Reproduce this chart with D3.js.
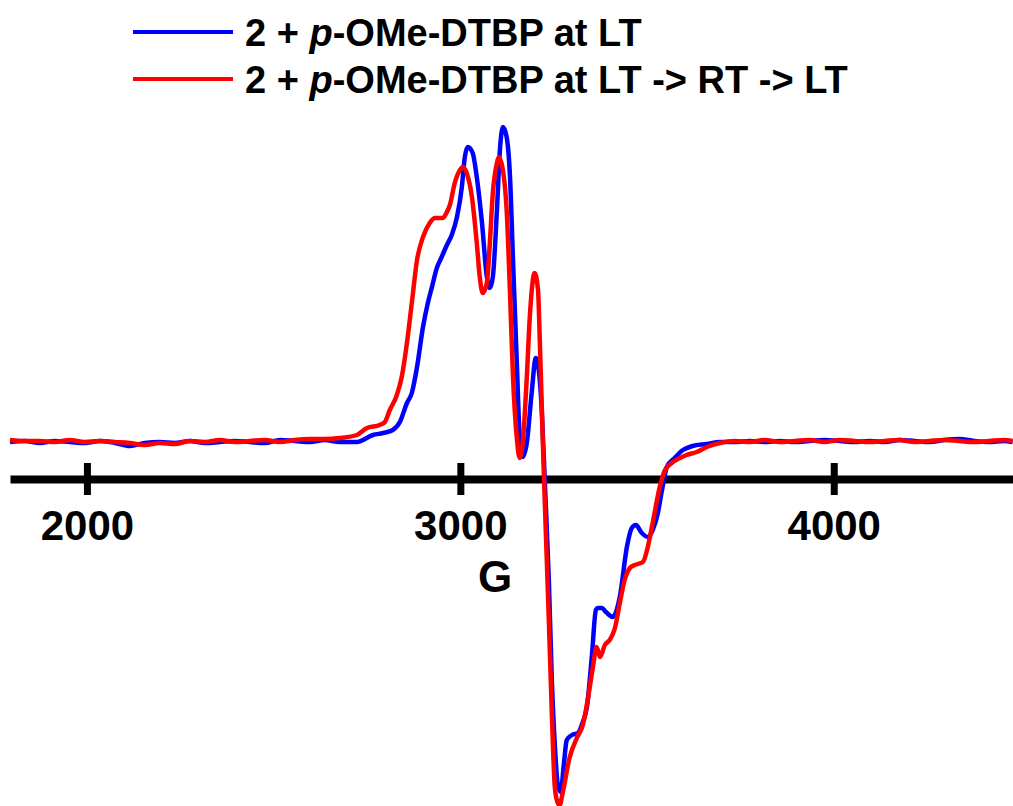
<!DOCTYPE html>
<html lang="en">
<head>
<meta charset="UTF-8">
<title>EPR spectra</title>
<script src="https://d3js.org/d3.v7.min.js"></script>
<style>
  body { margin: 0; background: #fff; }
  svg { display: block; font-family: "Liberation Sans", Arial, sans-serif; font-weight: bold; }
</style>
</head>
<body>
<svg id="chart" width="1013" height="806"></svg>
<script>
// field (G), intensity (arb. units)
const blueLT = [
  [1794,-0.01],[1834,0.00],[1874,-0.02],[1914,0.00],[1954,-0.01],[1994,-0.02],[2035,0.00],[2075,-0.02],
  [2115,-0.05],[2155,-0.02],[2195,-0.01],[2235,-0.02],[2276,0.00],[2316,-0.02],[2356,-0.01],[2396,0.00],
  [2436,-0.01],[2476,-0.02],[2517,0.01],[2557,0.00],[2597,-0.01],[2637,0.01],[2677,-0.01],[2723,-0.01],
  [2766,0.06],[2793,0.08],[2819,0.11],[2838,0.19],[2857,0.38],[2870,0.48],[2884,0.74],[2900,1.14],
  [2913,1.38],[2924,1.54],[2937,1.73],[2950,1.84],[2964,1.96],[2977,2.06],[2991,2.24],[3004,2.54],
  [3012,2.84],[3020,2.94],[3033,2.88],[3044,2.64],[3058,2.18],[3071,1.64],[3079,1.53],[3087,1.64],
  [3098,2.31],[3106,2.91],[3114,3.14],[3124,3.04],[3133,2.64],[3141,1.81],[3151,0.81],[3159,0.04],
  [3167,-0.16],[3178,-0.02],[3191,0.48],[3202,0.83],[3210,0.71],[3218,0.31],[3226,-0.39],[3237,-1.39],
  [3245,-2.39],[3253,-3.04],[3261,-3.44],[3269,-3.51],[3277,-3.24],[3285,-2.99],[3299,-2.94],[3315,-2.92],
  [3328,-2.81],[3339,-2.66],[3352,-2.16],[3363,-1.69],[3368,-1.67],[3379,-1.67],[3390,-1.71],[3408,-1.76],
  [3427,-1.56],[3446,-1.06],[3459,-0.87],[3470,-0.84],[3486,-0.92],[3502,-0.96],[3515,-0.89],[3529,-0.72],
  [3540,-0.49],[3553,-0.26],[3574,-0.17],[3596,-0.09],[3622,-0.05],[3660,-0.03],[3695,-0.01],
  [3735,-0.01],[3775,0.00],[3815,-0.01],[3855,0.00],[3895,-0.01],[3935,0.00],[3975,0.01],[4016,0.00],
  [4056,-0.01],[4096,0.00],[4136,-0.01],[4176,0.01],[4216,0.00],[4256,-0.01],[4296,0.01],[4336,0.02],
  [4376,0.00],[4416,-0.01],[4456,0.00],[4479,-0.01]
];

const redCycled = [
  [1794,0.01],[1834,0.00],[1874,0.00],[1914,-0.01],[1954,0.01],[1994,-0.01],[2035,0.00],[2075,-0.01],
  [2115,-0.02],[2155,-0.04],[2195,-0.02],[2235,-0.03],[2276,0.00],[2316,-0.01],[2356,0.01],[2396,-0.01],
  [2436,0.00],[2476,0.01],[2517,-0.01],[2557,0.01],[2597,0.02],[2637,0.02],[2677,0.03],[2723,0.06],
  [2750,0.13],[2784,0.16],[2798,0.19],[2811,0.31],[2830,0.46],[2843,0.64],[2857,0.98],[2870,1.38],
  [2884,1.81],[2900,2.04],[2918,2.18],[2932,2.23],[2953,2.23],[2964,2.29],[2972,2.36],[2985,2.58],
  [2999,2.71],[3007,2.74],[3017,2.68],[3031,2.44],[3044,1.98],[3052,1.64],[3060,1.48],[3071,1.58],
  [3079,1.98],[3087,2.48],[3098,2.78],[3103,2.84],[3114,2.71],[3124,2.31],[3133,1.48],[3141,0.64],
  [3151,0.04],[3159,-0.17],[3167,-0.02],[3178,0.64],[3186,1.24],[3199,1.68],[3208,1.51],[3213,0.98],
  [3221,-0.02],[3226,-0.59],[3237,-1.79],[3245,-2.72],[3253,-3.46],[3261,-3.62],[3266,-3.64],[3274,-3.52],
  [3293,-3.16],[3312,-2.97],[3328,-2.84],[3341,-2.59],[3355,-2.26],[3365,-2.06],[3374,-2.16],[3387,-2.04],
  [3400,-1.99],[3414,-1.87],[3427,-1.62],[3440,-1.39],[3454,-1.27],[3467,-1.24],[3489,-1.21],[3502,-1.06],
  [3515,-0.82],[3534,-0.46],[3548,-0.29],[3566,-0.22],[3588,-0.17],[3606,-0.14],[3633,-0.11],[3660,-0.06],
  [3695,-0.02],[3735,0.00],[3775,-0.01],[3815,0.01],[3855,-0.01],[3895,0.00],[3935,0.01],[3975,-0.01],
  [4016,0.01],[4056,0.00],[4096,-0.01],[4136,0.00],[4176,0.01],[4216,-0.01],[4256,0.00],[4296,0.01],
  [4336,0.00],[4376,-0.01],[4416,0.00],[4456,0.01],[4479,0.00]
];

const xTicks = [2000, 3000, 4000];
const xLabel = "G";
const axisLevel = -0.38; // where the field axis crosses the intensity scale

const legendItems = [
  { pre: "2 + ", it: "p", post: "-OMe-DTBP at LT", color: "#0000ff" },
  { pre: "2 + ", it: "p", post: "-OMe-DTBP at LT -> RT -> LT", color: "#ff0000" }
];

const width = 1013, height = 806;
const svg = d3.select("#chart");

const x = d3.scaleLinear().domain([1794, 4480]).range([10, 1013]);
const y = d3.scaleLinear().domain([-3.65, 4.41]).range([806, 0]);

// x axis with ticks crossing the line
const axisY = y(axisLevel);
const axis = svg.append("g")
    .attr("transform", `translate(0,${axisY})`)
    .call(d3.axisBottom(x).tickValues(xTicks).tickSize(16).tickSizeOuter(0).tickFormat(d3.format("d")));

axis.select(".domain").attr("stroke", "#000").attr("stroke-width", 8);
axis.selectAll(".tick line").attr("y1", -16).attr("y2", 16).attr("stroke", "#000").attr("stroke-width", 7);
axis.selectAll(".tick text")
    .attr("y", 61).attr("dy", null)
    .attr("fill", "#000")
    .attr("font-size", 42)
    .attr("font-family", "'Liberation Sans', Arial, sans-serif")
    .attr("font-weight", "bold");

svg.append("text")
    .attr("x", 495).attr("y", 592)
    .attr("text-anchor", "middle")
    .attr("font-size", 44)
    .text(xLabel);

// spectra
const line = d3.line()
    .x(d => x(d[0]))
    .y(d => y(d[1]))
    .curve(d3.curveMonotoneX);

[[blueLT, "#0000ff"], [redCycled, "#ff0000"]].forEach(([data, color]) => {
    svg.append("path")
        .datum(data)
        .attr("d", line)
        .attr("fill", "none")
        .attr("stroke", color)
        .attr("stroke-width", 4.5)
        .attr("stroke-linejoin", "round");
});

// legend
const legend = svg.append("g");
legendItems.forEach((item, i) => {
    const cy = 32 + i * 47;
    legend.append("line")
        .attr("x1", 133).attr("x2", 233)
        .attr("y1", cy).attr("y2", cy)
        .attr("stroke", item.color).attr("stroke-width", 4);
    const t = legend.append("text")
        .attr("x", 245).attr("y", cy + 14)
        .attr("font-size", 38);
    t.append("tspan").text(item.pre);
    t.append("tspan").attr("font-style", "italic").text(item.it);
    t.append("tspan").text(item.post);
});
</script>
</body>
</html>
